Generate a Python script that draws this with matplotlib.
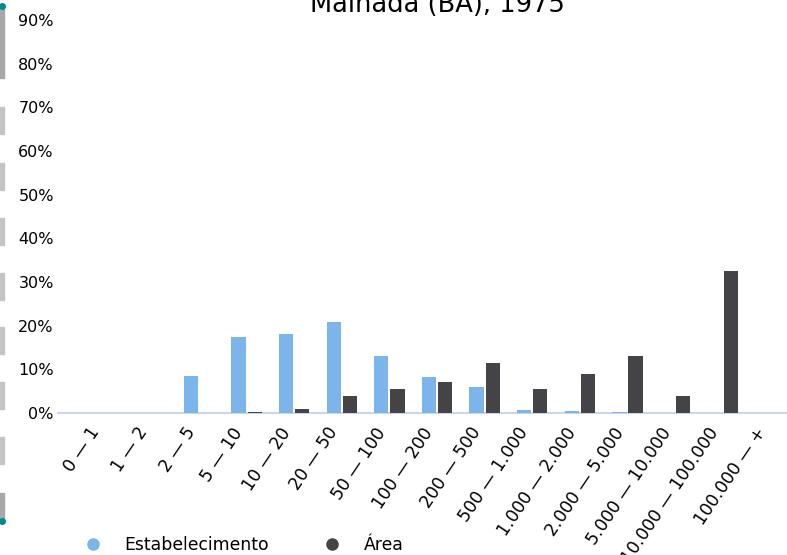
import matplotlib
matplotlib.use('Agg')
import matplotlib.pyplot as plt
from matplotlib.lines import Line2D
from matplotlib.patches import Rectangle
import numpy as np

categorias = ['0 — 1', '1 — 2', '2 — 5', '5 — 10', '10 — 20', '20 — 50',
              '50 — 100', '100 — 200', '200 — 500', '500 — 1.000',
              '1.000 — 2.000', '2.000 — 5.000', '5.000 — 10.000',
              '10.000 — 100.000', '100.000 — +']
estabelecimento = [0.0, 0.0, 8.5, 17.4, 18.2, 20.8, 13.1, 8.2, 5.9, 0.8,
                   0.5, 0.2, 0.0, 0.0, 0.0]
area = [0.0, 0.0, 0.0, 0.3, 0.9, 3.8, 5.6, 7.0, 11.4, 5.4,
        8.9, 13.1, 4.0, 32.6, 0.0]
y_ticks = [0, 10, 20, 30, 40, 50, 60, 70, 80, 90]
titulo = 'Mainada (BA), 1975'

cor_est = '#7cb5ec'
cor_area = '#434348'

W, H = 787, 555
fig = plt.figure(figsize=(W / 100, H / 100), dpi=100)
ax = fig.add_axes([58 / W, (H - 413) / H, 1 - 58 / W, 393 / H])

x = np.arange(len(categorias))
ax.bar(x - 0.17, estabelecimento, width=0.3, color=cor_est, linewidth=0, zorder=3)
ax.bar(x + 0.17, area, width=0.3, color=cor_area, linewidth=0, zorder=3)

ax.set_xlim(-0.96, 14.35)
ax.set_ylim(0, 90)
ax.set_yticks(y_ticks)
ax.set_yticklabels([f'{v}%' for v in y_ticks])
ax.set_xticks(x)
ax.set_xticklabels(categorias, rotation=56, ha='right')
ax.tick_params(axis='both', length=0, colors='black')
ax.tick_params(axis='y', pad=3, labelsize=11.5)
ax.tick_params(axis='x', pad=8, labelsize=12.3)

for s in ['top', 'right', 'left']:
    ax.spines[s].set_visible(False)
ax.spines['bottom'].set_color('#ccd6eb')
ax.spines['bottom'].set_linewidth(1.5)
ax.spines['bottom'].set_zorder(1)

fig.text(437 / W, 1 - 12 / H, titulo, ha='center', va='baseline', fontsize=18.5)

# legenda
handles = [
    Line2D([], [], marker='o', linestyle='', color=cor_est, markersize=8),
    Line2D([], [], marker='o', linestyle='', color=cor_area, markersize=8),
]
fig.legend(handles, ['Estabelecimento', 'Área'], ncol=2, frameon=False,
           loc='center left', bbox_to_anchor=(85 / W, 1 - 545 / H),
           borderpad=0, borderaxespad=0, handlelength=0.9,
           handletextpad=1.4, columnspacing=3.2, fontsize=12.4)

# barra lateral (navegador) na borda esquerda
fig.patches.append(Rectangle((0, 1 - 78 / H), 4 / W, 70 / H,
                             transform=fig.transFigure, color='#a8a8a8'))
for y0 in [107, 163, 218, 273, 327, 382, 437]:
    fig.patches.append(Rectangle((0, 1 - (y0 + 27) / H), 4 / W, 27 / H,
                                 transform=fig.transFigure, color='#c4c4c4'))
fig.patches.append(Rectangle((0, 1 - 520 / H), 4 / W, 27 / H,
                             transform=fig.transFigure, color='#a8a8a8'))
fig.add_artist(Line2D([2 / W], [1 - 6 / H], marker='o', color='#008b8b',
                      markersize=4, transform=fig.transFigure))
fig.add_artist(Line2D([2 / W], [1 - 521 / H], marker='o', color='#008b8b',
                      markersize=4, transform=fig.transFigure))

plt.savefig('out.png', dpi=100)
